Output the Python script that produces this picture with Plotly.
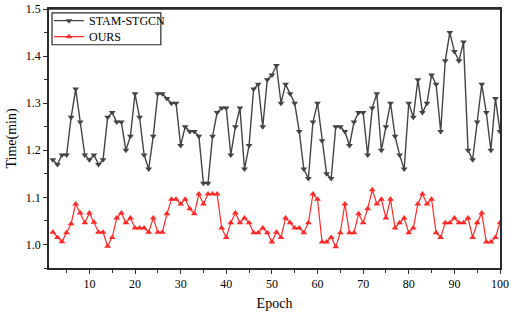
import plotly.graph_objects as go

epochs = list(range(2, 101))

stam_stgcn = [
    1.18, 1.17, 1.19, 1.19, 1.27, 1.33, 1.26, 1.19, 1.18, 1.19,
    1.17, 1.18, 1.27, 1.28, 1.26, 1.26, 1.20, 1.23, 1.32, 1.27,
    1.19, 1.16, 1.23, 1.32, 1.32, 1.31, 1.30, 1.30, 1.21, 1.25,
    1.24, 1.24, 1.23, 1.13, 1.13, 1.23, 1.28, 1.29, 1.29, 1.19,
    1.25, 1.29, 1.16, 1.21, 1.33, 1.34, 1.25, 1.35, 1.36, 1.38,
    1.30, 1.34, 1.32, 1.30, 1.24, 1.16, 1.14, 1.26, 1.30, 1.22,
    1.15, 1.14, 1.25, 1.25, 1.24, 1.21, 1.26, 1.28, 1.28, 1.19,
    1.29, 1.32, 1.20, 1.25, 1.30, 1.23, 1.19, 1.16, 1.30, 1.27,
    1.35, 1.28, 1.30, 1.36, 1.34, 1.24, 1.39, 1.45, 1.41, 1.39,
    1.43, 1.20, 1.18, 1.26, 1.34, 1.28, 1.20, 1.31, 1.24,
]

ours = [
    1.026, 1.015, 1.006, 1.025, 1.044, 1.086, 1.067, 1.046, 1.067, 1.047,
    1.026, 1.026, 0.996, 1.015, 1.056, 1.067, 1.046, 1.056, 1.035, 1.035,
    1.035, 1.026, 1.056, 1.026, 1.026, 1.065, 1.096, 1.096, 1.086, 1.096,
    1.076, 1.065, 1.107, 1.086, 1.107, 1.107, 1.107, 1.035, 1.015, 1.046,
    1.067, 1.046, 1.056, 1.046, 1.025, 1.025, 1.035, 1.025, 1.005, 1.026,
    1.015, 1.056, 1.046, 1.035, 1.035, 1.025, 1.046, 1.107, 1.096, 1.005,
    1.005, 1.015, 0.995, 1.025, 1.086, 1.025, 1.025, 1.065, 1.046, 1.076,
    1.116, 1.086, 1.096, 1.056, 1.096, 1.035, 1.046, 1.056, 1.025, 1.035,
    1.086, 1.107, 1.086, 1.096, 1.025, 1.015, 1.046, 1.046, 1.056, 1.046,
    1.046, 1.056, 1.015, 1.046, 1.067, 1.005, 1.005, 1.015, 1.046,
]

FONT = "Liberation Serif"
GRAY = "#444444"
RED = "#ff2a2a"
AX = "#2a2a2a"

fig = go.Figure()
fig.add_trace(go.Scatter(
    x=epochs, y=stam_stgcn, mode="lines+markers", name="STAM-STGCN",
    line=dict(color=GRAY, width=1.4),
    marker=dict(symbol="triangle-down", size=6, color=GRAY),
    legend="legend",
))
fig.add_trace(go.Scatter(
    x=epochs, y=ours, mode="lines+markers", name="OURS",
    line=dict(color=RED, width=1.2),
    marker=dict(symbol="triangle-up", size=6, color=RED),
    legend="legend2",
))

leg_common = dict(
    xanchor="left", yanchor="middle",
    borderwidth=0, bgcolor="rgba(255,255,255,0)",
    font=dict(family=FONT, size=12, color="black"),
    itemwidth=30,
)

fig.update_layout(
    width=512, height=322,
    margin=dict(l=49, r=12, t=9, b=54, autoexpand=False),
    paper_bgcolor="white", plot_bgcolor="white",
    font=dict(family=FONT, size=12, color="black"),
    showlegend=True,
    legend=dict(x=0.0, y=0.955, **leg_common),
    legend2=dict(x=0.0, y=0.893, **leg_common),
)
# plot frame (top edge) and legend box
fig.add_shape(
    type="line", xref="x domain", yref="y domain",
    x0=0, x1=1, y0=1, y1=1,
    line=dict(color=AX, width=1.6), layer="above",
)
fig.add_shape(
    type="rect", xref="x domain", yref="y domain",
    x0=0.0067, x1=0.248, y0=0.862, y1=0.985,
    line=dict(color=AX, width=1.2), layer="above",
)
fig.update_xaxes(
    range=[1.15, 100], tick0=0, dtick=10,
    ticks="outside", ticklen=4, tickcolor=AX,
    minor=dict(dtick=5, ticks="outside", ticklen=3, tickcolor=AX),
    showgrid=False, zeroline=False,
    showline=True, linecolor=AX, linewidth=1.6, mirror=True,
    title=dict(text="Epoch", font=dict(family=FONT, size=14), standoff=8),
    tickfont=dict(family=FONT, size=12),
)
fig.update_yaxes(
    range=[0.95, 1.5], tick0=1.0, dtick=0.1, tickformat=".1f",
    ticks="outside", ticklen=4, tickcolor=AX,
    minor=dict(dtick=0.05, ticks="outside", ticklen=3, tickcolor=AX),
    showgrid=False, zeroline=False,
    showline=True, linecolor=AX, linewidth=1.6, mirror=True,
    title=dict(text="Time(min)", font=dict(family=FONT, size=14), standoff=6),
    tickfont=dict(family=FONT, size=12),
)

fig.write_html(
    "out.html",
    config={"displayModeBar": False},
    post_script="document.body.style.margin='0px';document.body.style.overflow='hidden';",
)
